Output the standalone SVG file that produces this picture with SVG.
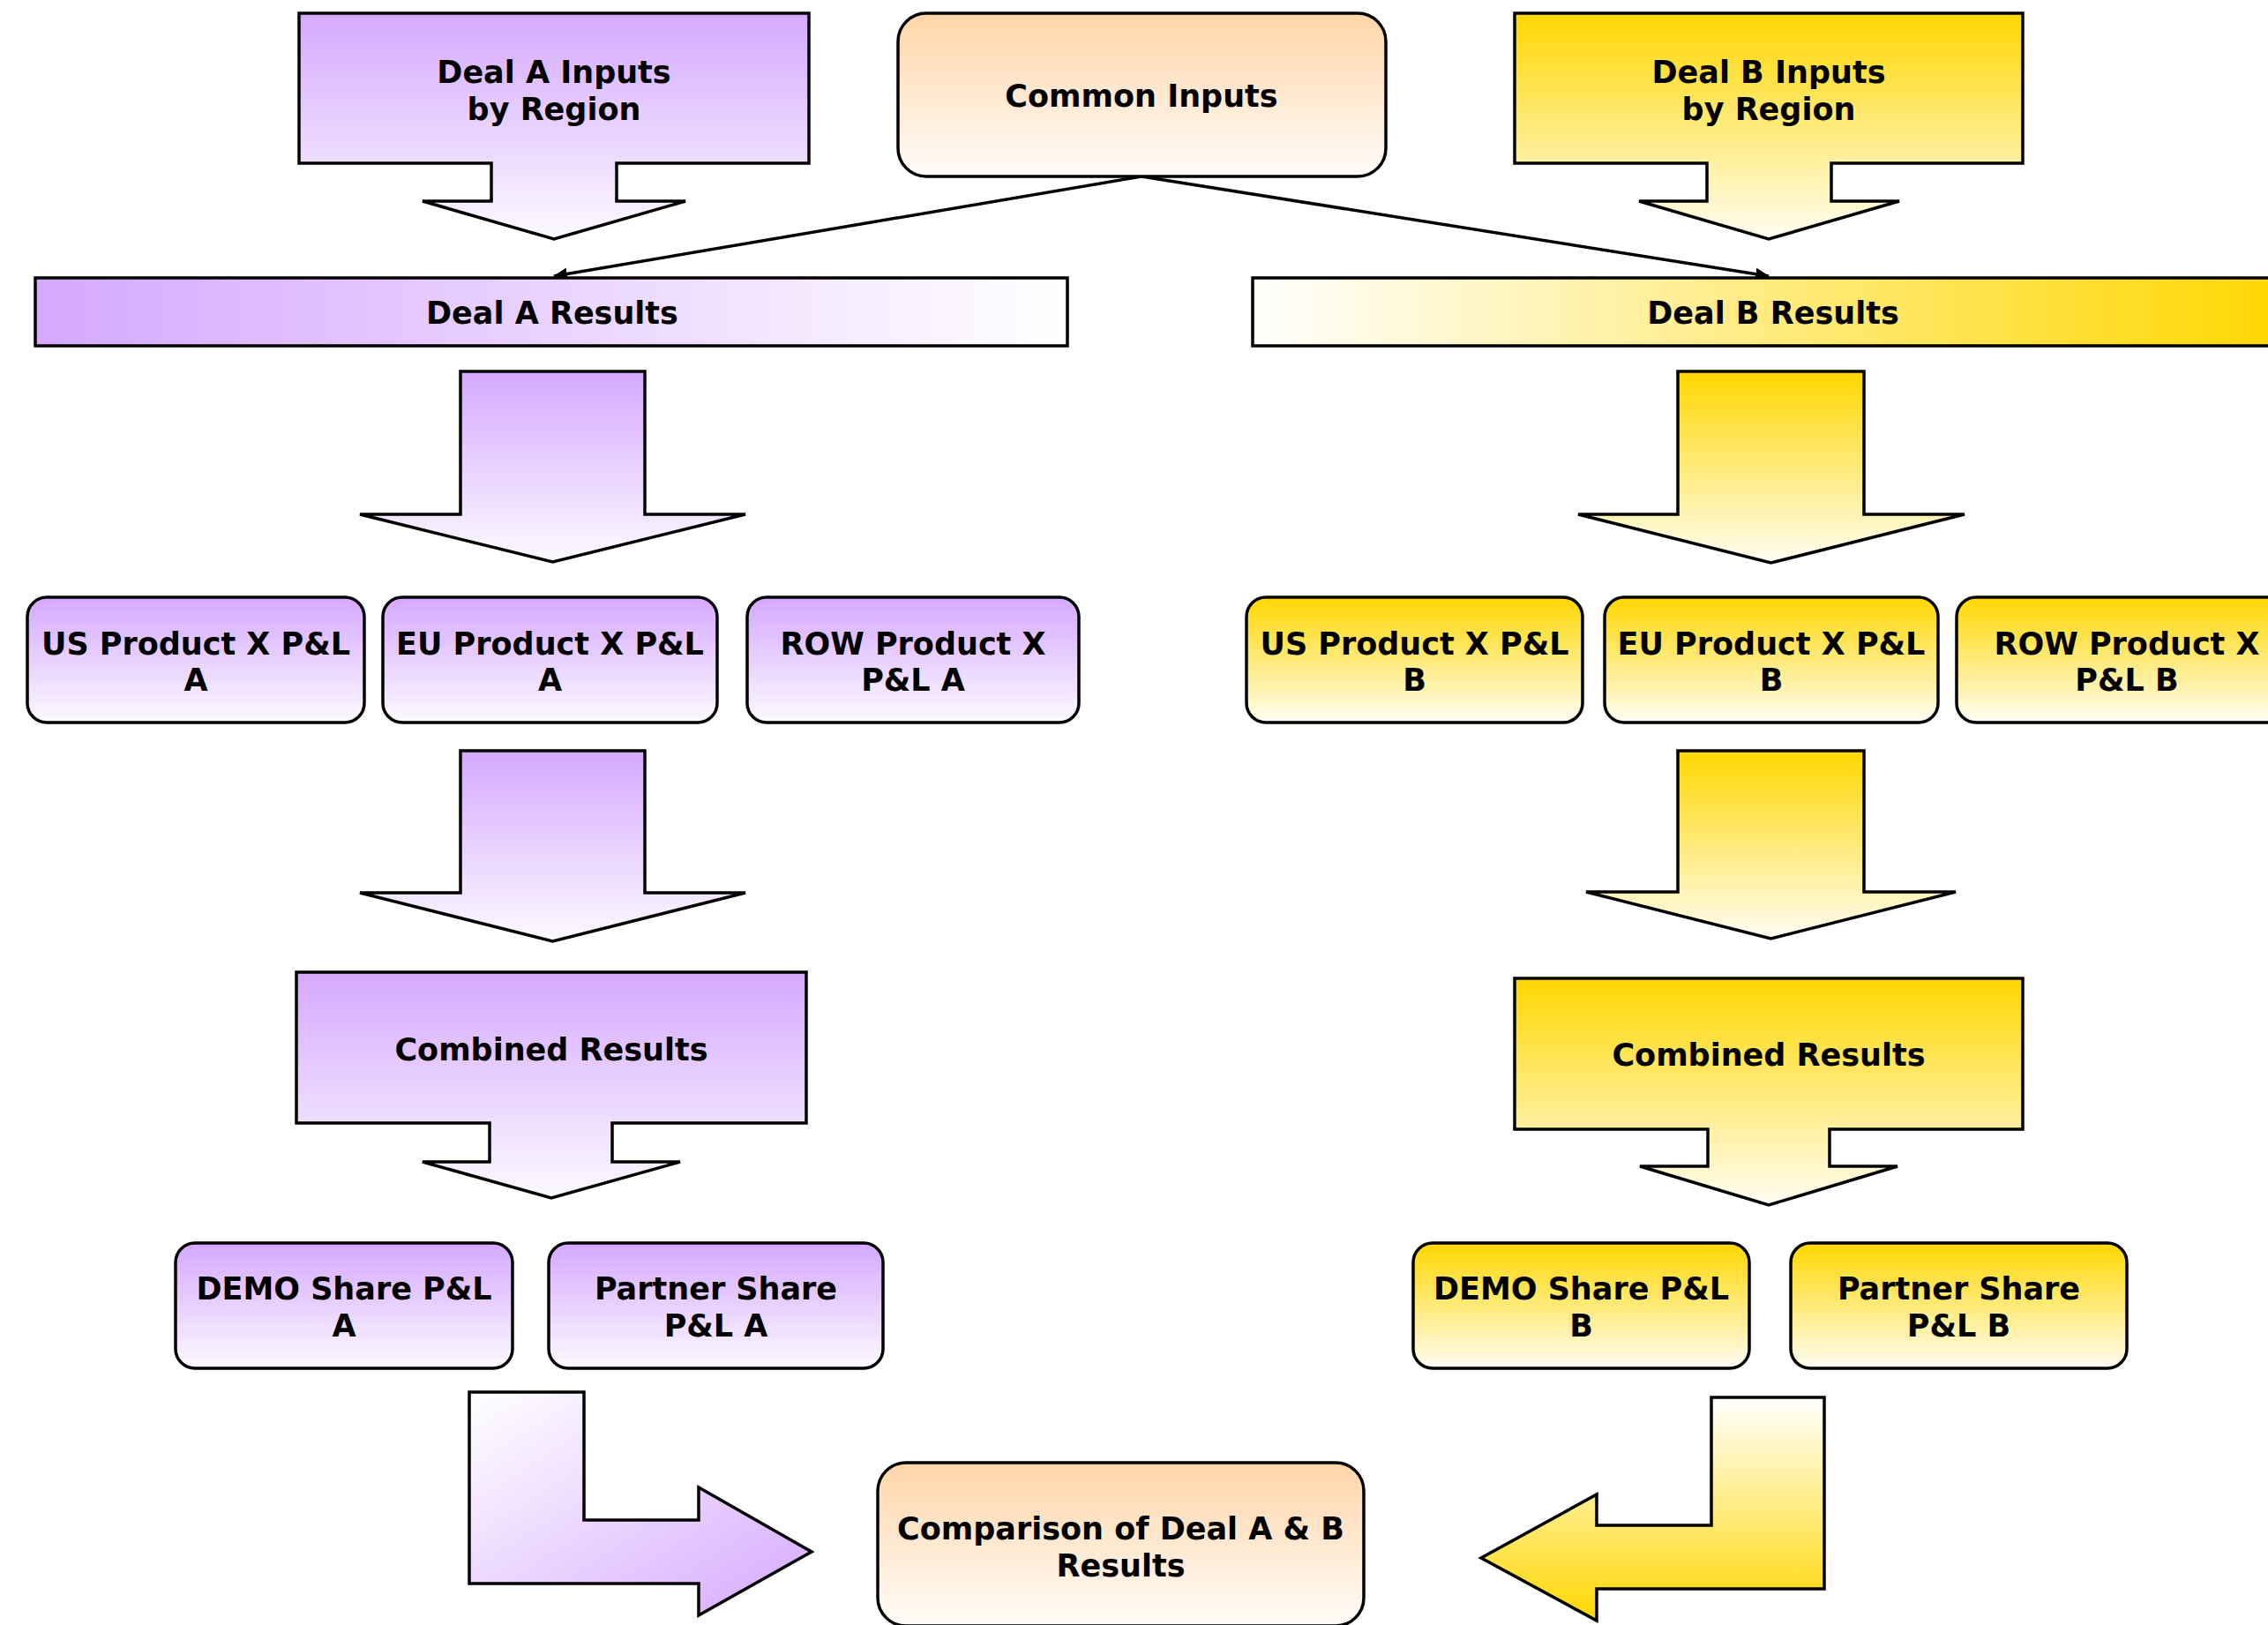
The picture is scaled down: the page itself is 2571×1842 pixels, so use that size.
<svg xmlns="http://www.w3.org/2000/svg" width="2571" height="1842" viewBox="0 0 2571 1842">
<defs>
<linearGradient id="pv" x1="0" y1="0" x2="0" y2="1"><stop offset="0" stop-color="#D5A8FF"/><stop offset="1" stop-color="#FCFAFF"/></linearGradient>
<linearGradient id="gv" x1="0" y1="0" x2="0" y2="1"><stop offset="0" stop-color="#FFD700"/><stop offset="1" stop-color="#FFFDF3"/></linearGradient>
<linearGradient id="ov" x1="0" y1="0" x2="0" y2="1"><stop offset="0" stop-color="#FFD5A8"/><stop offset="1" stop-color="#FFFCF9"/></linearGradient>
<linearGradient id="ph" x1="0" y1="0" x2="1" y2="0"><stop offset="0" stop-color="#D5A8FF"/><stop offset="1" stop-color="#FFFFFF"/></linearGradient>
<linearGradient id="gh" x1="0" y1="0" x2="1" y2="0"><stop offset="0" stop-color="#FFFFFF"/><stop offset="1" stop-color="#FFD700"/></linearGradient>
<linearGradient id="pd" x1="0" y1="0" x2="1" y2="1"><stop offset="0" stop-color="#FFFFFF"/><stop offset="1" stop-color="#D5A8FF"/></linearGradient>
<linearGradient id="gu" x1="0" y1="0" x2="0" y2="1"><stop offset="0" stop-color="#FFFFFF"/><stop offset="1" stop-color="#FFD700"/></linearGradient>
<marker id="ah" markerWidth="16" markerHeight="14" refX="15" refY="7" orient="auto" markerUnits="userSpaceOnUse"><path d="M0,0 L16,7 L0,14 Z" fill="#000"/></marker>
<style>
.s{stroke:#000;stroke-width:3.5;stroke-linejoin:miter}
.t{font-family:"DejaVu Sans","Verdana",sans-serif;font-weight:bold;font-size:35px;fill:#000;text-anchor:middle}
.c{stroke:#000;stroke-width:3.5;fill:none}
</style>
</defs>

<g id="connectors">
<line class="c" x1="1294" y1="200" x2="628" y2="313" marker-end="url(#ah)"/>
<line class="c" x1="1294" y1="200" x2="2005" y2="313" marker-end="url(#ah)"/>
</g>

<g id="dealA-inputs">
<polygon class="s" fill="url(#pv)" points="339,15 917,15 917,185 699,185 699,228 777,228 628,271 479,228 557,228 557,185 339,185"/>
<text class="t" x="628" y="94">Deal A Inputs</text>
<text class="t" x="628" y="136">by Region</text>
</g>

<g id="common-inputs">
<rect class="s" fill="url(#ov)" x="1018" y="15" width="553" height="185" rx="32"/>
<text class="t" x="1294" y="121">Common Inputs</text>
</g>

<g id="dealB-inputs">
<polygon class="s" fill="url(#gv)" points="1717,15 2293,15 2293,185 2076,185 2076,228 2153,228 2005,271 1858,228 1935,228 1935,185 1717,185"/>
<text class="t" x="2005" y="94">Deal B Inputs</text>
<text class="t" x="2005" y="136">by Region</text>
</g>

<g id="dealA-results">
<rect class="s" fill="url(#ph)" x="40" y="315" width="1170" height="77"/>
<text class="t" x="626" y="367">Deal A Results</text>
</g>

<g id="dealB-results">
<rect class="s" fill="url(#gh)" x="1420" y="315" width="1170" height="77"/>
<text class="t" x="2010" y="367">Deal B Results</text>
</g>

<g id="arrowA1">
<polygon class="s" fill="url(#pv)" points="522,421 731,421 731,583 845,583 626.5,637 408,583 522,583"/>
</g>
<g id="arrowB1">
<polygon class="s" fill="url(#gv)" points="1902,421 2113,421 2113,583 2227,583 2007.5,638 1789,583 1902,583"/>
</g>

<g id="usA">
<rect class="s" fill="url(#pv)" x="31" y="677" width="382" height="142" rx="22"/>
<text class="t" x="222" y="742">US Product X P&amp;L</text>
<text class="t" x="222" y="783">A</text>
</g>
<g id="euA">
<rect class="s" fill="url(#pv)" x="434" y="677" width="379" height="142" rx="22"/>
<text class="t" x="623.5" y="742">EU Product X P&amp;L</text>
<text class="t" x="623.5" y="783">A</text>
</g>
<g id="rowA">
<rect class="s" fill="url(#pv)" x="847" y="677" width="376" height="142" rx="22"/>
<text class="t" x="1035" y="742">ROW Product X</text>
<text class="t" x="1035" y="783">P&amp;L A</text>
</g>
<g id="usB">
<rect class="s" fill="url(#gv)" x="1413" y="677" width="381" height="142" rx="22"/>
<text class="t" x="1603.5" y="742">US Product X P&amp;L</text>
<text class="t" x="1603.5" y="783">B</text>
</g>
<g id="euB">
<rect class="s" fill="url(#gv)" x="1819" y="677" width="378" height="142" rx="22"/>
<text class="t" x="2008" y="742">EU Product X P&amp;L</text>
<text class="t" x="2008" y="783">B</text>
</g>
<g id="rowB">
<rect class="s" fill="url(#gv)" x="2218" y="677" width="382" height="142" rx="22"/>
<text class="t" x="2411" y="742">ROW Product X</text>
<text class="t" x="2411" y="783">P&amp;L B</text>
</g>

<g id="arrowA2">
<polygon class="s" fill="url(#pv)" points="522,851 731,851 731,1012 845,1012 626.5,1067 408,1012 522,1012"/>
</g>
<g id="arrowB2">
<polygon class="s" fill="url(#gv)" points="1902,851 2113,851 2113,1011 2217,1011 2007.5,1064 1798,1011 1902,1011"/>
</g>

<g id="combinedA">
<polygon class="s" fill="url(#pv)" points="336,1102 914,1102 914,1273 694,1273 694,1317 771,1317 625,1358 479,1317 555,1317 555,1273 336,1273"/>
<text class="t" x="625" y="1202">Combined Results</text>
</g>
<g id="combinedB">
<polygon class="s" fill="url(#gv)" points="1717,1109 2293,1109 2293,1280 2074,1280 2074,1322 2151,1322 2005,1366 1859,1322 1936,1322 1936,1280 1717,1280"/>
<text class="t" x="2005" y="1208">Combined Results</text>
</g>

<g id="demoA">
<rect class="s" fill="url(#pv)" x="199" y="1409" width="382" height="142" rx="22"/>
<text class="t" x="390" y="1473">DEMO Share P&amp;L</text>
<text class="t" x="390" y="1515">A</text>
</g>
<g id="partnerA">
<rect class="s" fill="url(#pv)" x="622" y="1409" width="379" height="142" rx="22"/>
<text class="t" x="811.5" y="1473">Partner Share</text>
<text class="t" x="811.5" y="1515">P&amp;L A</text>
</g>
<g id="demoB">
<rect class="s" fill="url(#gv)" x="1602" y="1409" width="381" height="142" rx="22"/>
<text class="t" x="1792.5" y="1473">DEMO Share P&amp;L</text>
<text class="t" x="1792.5" y="1515">B</text>
</g>
<g id="partnerB">
<rect class="s" fill="url(#gv)" x="2030" y="1409" width="381" height="142" rx="22"/>
<text class="t" x="2220.5" y="1473">Partner Share</text>
<text class="t" x="2220.5" y="1515">P&amp;L B</text>
</g>

<g id="arrowA3">
<polygon class="s" fill="url(#pd)" points="532,1578 662,1578 662,1723 792,1723 792,1686 920,1759 792,1831 792,1795 532,1795"/>
</g>
<g id="arrowB3">
<polygon class="s" fill="url(#gu)" points="1940,1584 2068,1584 2068,1801 1810,1801 1810,1837 1679,1766 1810,1694 1810,1729 1940,1729"/>
</g>

<g id="comparison">
<rect class="s" fill="url(#ov)" x="995" y="1658" width="551" height="185" rx="32"/>
<text class="t" x="1270.5" y="1745">Comparison of Deal A &amp; B</text>
<text class="t" x="1270.5" y="1787">Results</text>
</g>
</svg>
